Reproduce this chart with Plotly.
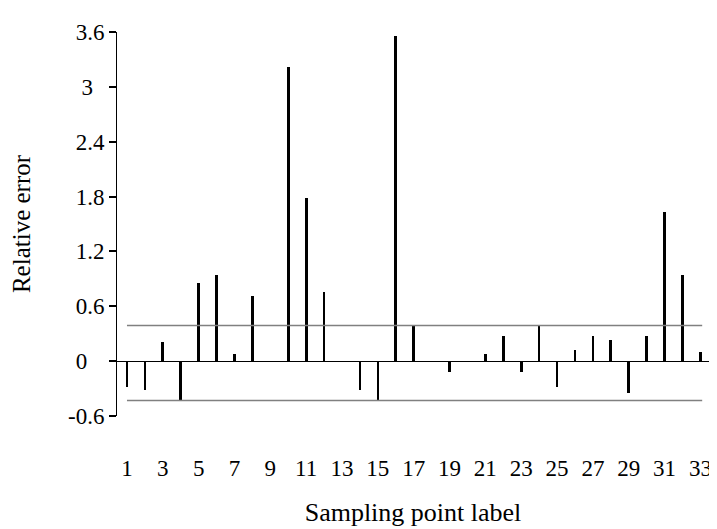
import plotly.graph_objects as go

# Sampling point labels 1..33
points = list(range(1, 34))
relative_error = [
    -0.28, -0.32, 0.21, -0.43, 0.85, 0.94, 0.08, 0.71, 0.0, 3.22,
    1.78, 0.76, 0.0, -0.32, -0.43, 3.56, 0.39, 0.0, -0.12, 0.0,
    0.08, 0.28, -0.12, 0.39, -0.28, 0.12, 0.28, 0.235, -0.35, 0.28,
    1.63, 0.94, 0.10,
]
upper_limit = 0.39
lower_limit = -0.43

y_tickvals = [-0.6, 0, 0.6, 1.2, 1.8, 2.4, 3, 3.6]
y_ticktext = ["-0.6", "0\u00a0\u00a0\u00a0", "0.6", "1.2", "1.8", "2.4", "3\u00a0\u00a0", "3.6"]
x_tickvals = list(range(1, 34, 2))
x_ticktext = [str(v) for v in x_tickvals]

FONT = "Liberation Serif, Times New Roman, serif"

fig = go.Figure()

# Threshold lines
for lim in (upper_limit, lower_limit):
    fig.add_trace(go.Scatter(
        x=[points[0], points[-1] + 0.1], y=[lim, lim], mode="lines",
        line=dict(color="#808080", width=1.5), showlegend=False, hoverinfo="skip",
    ))

fig.add_trace(go.Bar(
    x=points, y=relative_error, width=0.15,
    marker=dict(color="black", line=dict(width=0)),
    showlegend=False,
))

# the page body has an 8px margin, so the figure is sized to fit inside it
fig.update_layout(
    width=709, height=521,
    margin=dict(l=109, r=8, t=24, b=113),
    plot_bgcolor="white", paper_bgcolor="white",
    font=dict(family=FONT, size=23, color="black"),
    xaxis=dict(
        range=[0.443, 33.48], showline=False, showgrid=False, zeroline=False,
        automargin=False,
        tickmode="array", tickvals=x_tickvals, ticktext=x_ticktext,
        ticks="", ticklabelstandoff=36, tickfont=dict(size=23),
        title=dict(text="Sampling point label", font=dict(size=26), standoff=22),
    ),
    yaxis=dict(
        range=[-0.6, 3.6], showline=True, linecolor="black", linewidth=1,
        automargin=False,
        showgrid=False, zeroline=True, zerolinecolor="black", zerolinewidth=1,
        tickmode="array", tickvals=y_tickvals, ticktext=y_ticktext,
        ticks="outside", ticklen=7, tickcolor="black", tickwidth=1.5,
        tickfont=dict(size=23),
        title=dict(text="Relative error", font=dict(size=25), standoff=30),
    ),
    bargap=0,
)

fig.write_html("out.html")
